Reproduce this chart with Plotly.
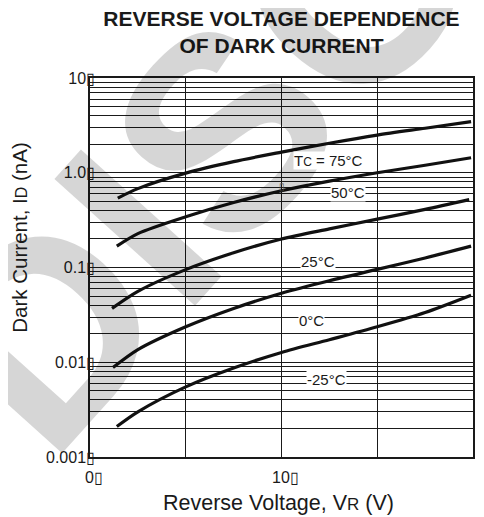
import math
import plotly.graph_objects as go

# ---- data ----
vr_75 = [1.45, 2.5, 5, 7.5, 10, 12.5, 15, 17.5, 19.9]
id_75 = [0.54, 0.68, 0.99, 1.31, 1.65, 2.05, 2.5, 2.95, 3.46]

vr_50 = [1.4, 2.5, 5, 7.5, 10, 12.5, 15, 17.5, 19.9]
id_50 = [0.168, 0.228, 0.343, 0.485, 0.645, 0.815, 1.0, 1.2, 1.44]

vr_25 = [1.15, 2.5, 5, 7.5, 10, 12.5, 15, 17.5, 19.8]
id_25 = [0.037, 0.056, 0.095, 0.143, 0.2, 0.256, 0.324, 0.41, 0.52]

vr_0 = [1.2, 2.5, 5, 7.5, 10, 12.5, 15, 17.5, 19.9]
id_0 = [0.0088, 0.0136, 0.0237, 0.037, 0.0535, 0.0725, 0.0955, 0.126, 0.168]

vr_m25 = [1.4, 2.5, 5, 7.5, 10, 12.5, 15, 17.5, 19.9]
id_m25 = [0.0021, 0.003, 0.0055, 0.0087, 0.0127, 0.0173, 0.0237, 0.0335, 0.051]

labels = ["T<span style='font-size:12px'>C</span> = 75°C", "50°C", "25°C", "0°C", "-25°C"]
label_x = [12.44, 13.49, 11.88, 11.58, 12.36]
label_y = [1.34, 0.615, 0.117, 0.0275, 0.0065]

x_tickvals = [0, 10, 20]
x_ticktext = ["0▯", "10▯", "20▯"]
y_tickvals = [0.001, 0.01, 0.1, 1, 10]
y_ticktext = ["0.001▯", "0.01▯", "0.1▯", "1.0▯", "10▯"]
y_minor = [k * 10.0 ** e for e in range(-3, 1) for k in range(2, 10)]

FONT = "Liberation Sans, Arial, Helvetica, sans-serif"
INK = "#1a1a1a"

fig = go.Figure()
for xs, ys in [(vr_75, id_75), (vr_50, id_50), (vr_25, id_25), (vr_0, id_0), (vr_m25, id_m25)]:
    fig.add_trace(go.Scatter(
        x=xs, y=ys, mode="lines",
        line=dict(color="#111111", width=3.2, shape="spline", smoothing=0.8),
        showlegend=False, hoverinfo="skip",
    ))

annotations = []
# watermark (drawn first, translucent grey)
annotations.append(dict(
    text="DISCONTINUED", xref="paper", yref="paper", x=1.538, y=2.193,
    xanchor="center", yanchor="middle", showarrow=False, textangle=-48,
    font=dict(family=FONT, size=275, color="rgba(0,0,0,0.16)", weight="bold"),
))
for t, lx, ly in zip(labels, label_x, label_y):
    annotations.append(dict(
        text=t, x=lx, y=math.log10(ly), xref="x", yref="y",
        showarrow=False, bgcolor="white", borderpad=0,
        font=dict(family=FONT, size=15, color=INK),
    ))
# stray glyph on the 50°C curve at 10 V
annotations.append(dict(
    text="▯", x=10, y=math.log10(0.708), xref="x", yref="y",
    showarrow=False, font=dict(family=FONT, size=10, color="#555555"),
))
annotations.append(dict(
    text="Reverse Voltage, V<span style='font-size:17px'>R</span> (V)",
    xref="paper", yref="paper", x=0.493, y=-0.121,
    xanchor="center", yanchor="middle", showarrow=False,
    font=dict(family=FONT, size=21.5, color=INK),
))
annotations.append(dict(
    text="Dark Current, I<span style='font-size:16px'>D</span> (nA)",
    xref="paper", yref="paper", x=-0.185, y=0.579, textangle=-90,
    xanchor="center", yanchor="middle", showarrow=False,
    font=dict(family=FONT, size=20.5, color=INK),
))

# page has an 8px body margin, so the figure is 8px smaller than the window
fig.update_layout(
    width=476, height=509,
    margin=dict(l=82, r=11, t=70, b=60),
    paper_bgcolor="white", plot_bgcolor="white",
    title=dict(
        text="REVERSE VOLTAGE DEPENDENCE<br>OF DARK CURRENT",
        x=0.5, xref="paper", y=1 - 18 / 509, yref="container",
        xanchor="center", yanchor="middle",
        font=dict(family=FONT, size=21, color=INK, weight="bold"),
    ),
    annotations=annotations,
    xaxis=dict(
        range=[0, 20], tickmode="array", tickvals=x_tickvals, ticktext=x_ticktext,
        showgrid=True, gridcolor=INK, gridwidth=1,
        minor=dict(dtick=5, showgrid=True, gridcolor=INK, gridwidth=1),
        showline=True, linecolor=INK, linewidth=1.5, mirror=True,
        ticks="", zeroline=False, ticklabelstandoff=5, ticklabelshift=4,
        tickfont=dict(family=FONT, size=16, color=INK), automargin=False,
    ),
    yaxis=dict(
        type="log", range=[-3, 1], tickmode="array", tickvals=y_tickvals, ticktext=y_ticktext,
        showgrid=True, gridcolor=INK, gridwidth=1,
        minor=dict(tickmode="array", tickvals=y_minor, showgrid=True, gridcolor=INK, gridwidth=1),
        showline=True, linecolor=INK, linewidth=1.5, mirror=True,
        ticks="", zeroline=False, ticklabelstandoff=-10,
        tickfont=dict(family=FONT, size=16, color=INK), automargin=False,
    ),
)

fig.write_html("out.html")
